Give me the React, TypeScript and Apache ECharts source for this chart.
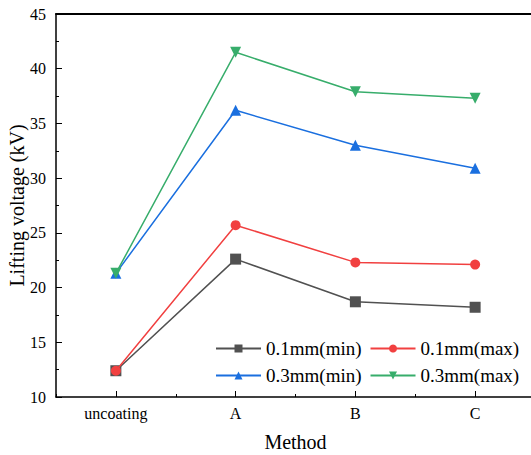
import React, { useEffect, useRef } from "react";
import * as echarts from "echarts";

const categories = ["uncoating", "A", "B", "C"];
const min01 = [12.4, 22.6, 18.7, 18.2];
const max01 = [12.4, 25.7, 22.3, 22.1];
const min03 = [21.3, 36.2, 33.0, 30.9];
const max03 = [21.3, 41.5, 37.9, 37.3];
const seriesNames = ["0.1mm(min)", "0.1mm(max)", "0.3mm(min)", "0.3mm(max)"];
const colors = ["#515151", "#F14040", "#1A6FDF", "#37AD6B"];
const symbols = ["rect", "circle", "triangle", "triangle"];

const FONT = "Liberation Serif";

export default function App() {
  const ref = useRef<HTMLDivElement>(null);
  useEffect(() => {
    if (!ref.current) return;
    const chart = echarts.init(ref.current, null, { renderer: "svg" });
    const datas = [min01, max01, min03, max03];
    chart.setOption({
      animation: false,
      textStyle: { fontFamily: FONT },
      grid: { left: 56, top: 14, width: 479, height: 383, containLabel: false, outerBoundsMode: "none" },
      legend: {
        left: 210,
        top: 334,
        width: 310,
        itemWidth: 45,
        itemHeight: 10,
        itemGap: 8,
        textStyle: { fontFamily: FONT, fontSize: 19, color: "#000" },
        data: seriesNames,
      },
      xAxis: [
        {
          type: "category",
          data: categories,
          boundaryGap: true,
          name: "Method",
          nameLocation: "middle",
          nameGap: 35,
          nameMoveOverlap: false,
          nameTextStyle: { fontFamily: FONT, fontSize: 20, color: "#000" },
          axisLine: { lineStyle: { color: "#000", width: 1.5 } },
          axisTick: { show: true, alignWithLabel: true, inside: true, length: 6, lineStyle: { color: "#000" } },
          axisLabel: { fontFamily: FONT, fontSize: 16, color: "#000", margin: 8 },
          splitLine: { show: false },
        },
        {
          type: "category",
          data: categories,
          boundaryGap: true,
          position: "bottom",
          axisLine: { show: false },
          axisTick: { show: true, inside: true, length: 3, lineStyle: { color: "#000" } },
          axisLabel: { show: false },
          splitLine: { show: false },
        },
        {
          type: "category",
          data: categories,
          position: "top",
          axisLine: { show: true, lineStyle: { color: "#000", width: 2 } },
          axisTick: { show: false },
          axisLabel: { show: false },
          splitLine: { show: false },
        },
      ],
      yAxis: {
        type: "value",
        min: 10,
        max: 45,
        interval: 5,
        name: "Lifting voltage (kV)",
        nameLocation: "middle",
        nameGap: 29,
        nameMoveOverlap: false,
        nameTextStyle: { fontFamily: FONT, fontSize: 20, color: "#000" },
        axisLine: { show: true, lineStyle: { color: "#000", width: 1.5 } },
        axisTick: { show: true, inside: true, length: 6, lineStyle: { color: "#000" } },
        minorTick: { show: true, splitNumber: 2, length: 3, lineStyle: { color: "#000" } },
        axisLabel: { fontFamily: FONT, fontSize: 16, color: "#000", margin: 10 },
        splitLine: { show: false },
      },
      series: seriesNames.map((name, i) => ({
        name,
        type: "line",
        data: datas[i],
        xAxisIndex: 0,
        symbol: symbols[i],
        symbolSize: i === 1 ? 10 : 11,
        symbolRotate: i === 3 ? 180 : 0,
        showAllSymbol: true,
        itemStyle: { color: colors[i] },
        lineStyle: { color: colors[i], width: 1.5 },
        z: i,
      })),
    });
    return () => chart.dispose();
  }, []);
  return <div ref={ref} style={{ width: 531, height: 455, position: "absolute", left: 0, top: 0 }} />;
}
